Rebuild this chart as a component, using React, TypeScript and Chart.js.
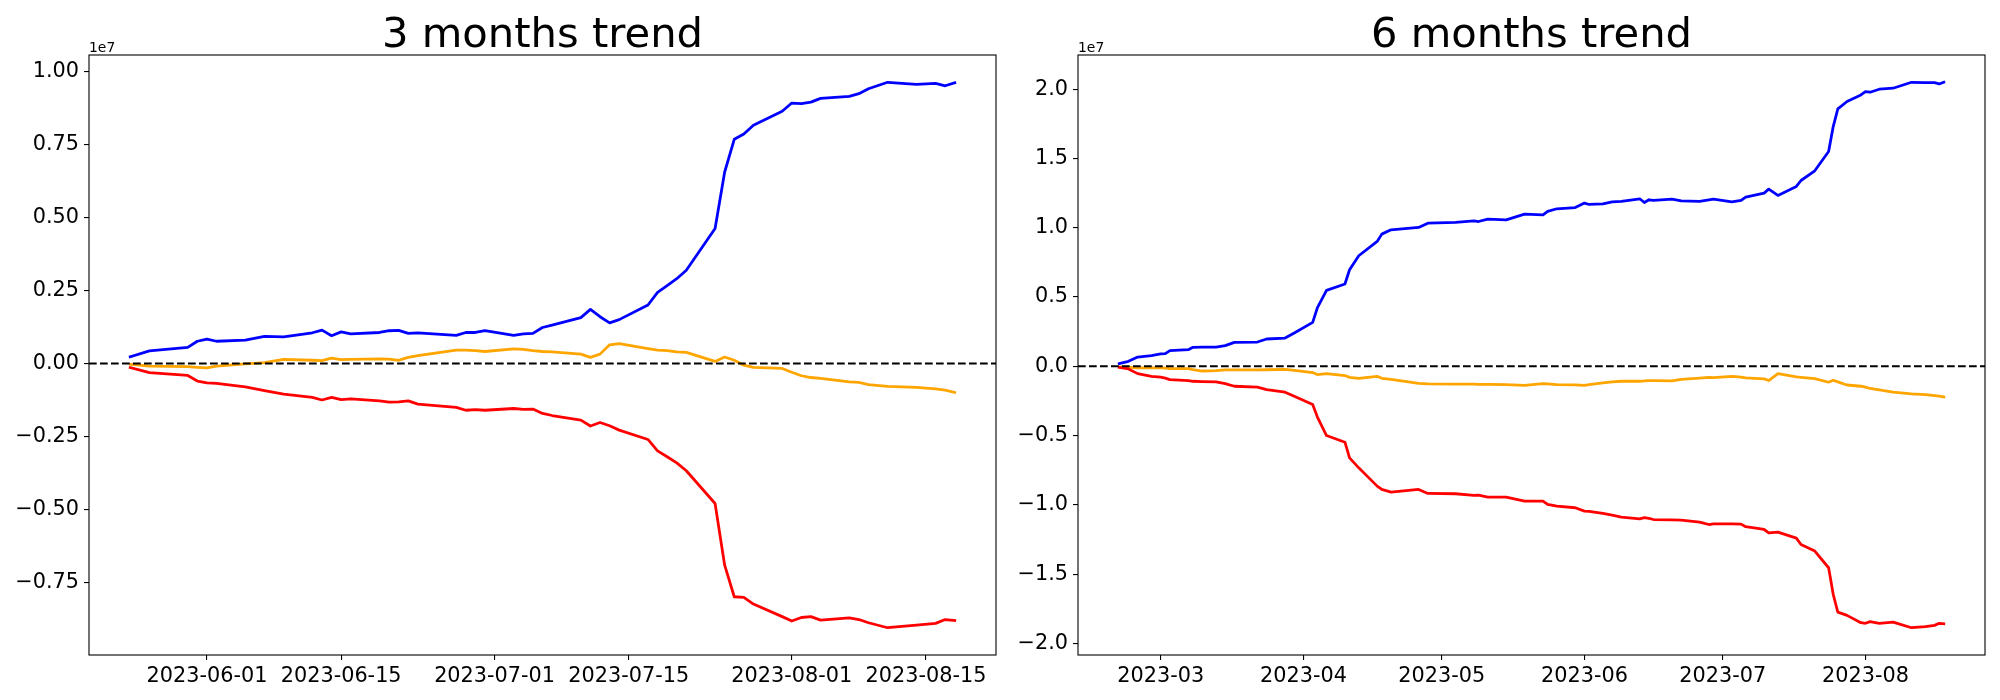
import React, { useEffect, useRef } from "react";
import { Chart, registerables } from "chart.js";

Chart.register(...registerables);

const FONT = "'DejaVu Sans', sans-serif";

// ---------- 3 months data (values in units of 1e7) ----------
const dates3m = [
  "2023-05-24", "2023-05-26", "2023-05-30", "2023-05-31", "2023-06-01", "2023-06-02", "2023-06-05", "2023-06-07", "2023-06-09", "2023-06-12",
  "2023-06-13", "2023-06-14", "2023-06-15", "2023-06-16", "2023-06-19", "2023-06-20", "2023-06-21", "2023-06-22", "2023-06-23", "2023-06-27",
  "2023-06-28", "2023-06-29", "2023-06-30", "2023-07-03", "2023-07-04", "2023-07-05", "2023-07-06", "2023-07-07", "2023-07-10", "2023-07-11",
  "2023-07-12", "2023-07-13", "2023-07-14", "2023-07-17", "2023-07-18", "2023-07-19", "2023-07-20", "2023-07-21", "2023-07-24", "2023-07-25",
  "2023-07-26", "2023-07-27", "2023-07-28", "2023-07-31", "2023-08-01", "2023-08-02", "2023-08-03", "2023-08-04", "2023-08-07", "2023-08-08",
  "2023-08-09", "2023-08-11", "2023-08-14", "2023-08-16", "2023-08-17", "2023-08-18",
];
const blue3m = [
  0.023, 0.043, 0.055, 0.076, 0.083, 0.076, 0.080, 0.093, 0.091, 0.105,
  0.114, 0.095, 0.108, 0.101, 0.106, 0.112, 0.113, 0.103, 0.105, 0.096,
  0.106, 0.106, 0.112, 0.096, 0.101, 0.103, 0.123, 0.131, 0.157, 0.185,
  0.160, 0.139, 0.150, 0.200, 0.243, 0.266, 0.290, 0.319, 0.462, 0.655,
  0.767, 0.785, 0.815, 0.863, 0.891, 0.889, 0.894, 0.907, 0.914, 0.923,
  0.940, 0.962, 0.955, 0.958, 0.950, 0.960,
];
const orange3m = [
  -0.003, -0.009, -0.011, -0.013, -0.015, -0.009, -0.001, 0.003, 0.014, 0.011,
  0.010, 0.018, 0.013, 0.014, 0.016, 0.015, 0.011, 0.021, 0.027, 0.046,
  0.046, 0.044, 0.041, 0.050, 0.048, 0.044, 0.041, 0.040, 0.032, 0.021,
  0.032, 0.064, 0.068, 0.051, 0.046, 0.044, 0.040, 0.038, 0.007, 0.022,
  0.011, -0.006, -0.013, -0.017, -0.030, -0.042, -0.048, -0.051, -0.063, -0.065,
  -0.072, -0.078, -0.082, -0.087, -0.091, -0.099,
];
const red3m = [
  -0.014, -0.031, -0.041, -0.060, -0.066, -0.068, -0.080, -0.093, -0.105, -0.116,
  -0.125, -0.116, -0.124, -0.121, -0.128, -0.132, -0.131, -0.128, -0.139, -0.150,
  -0.160, -0.158, -0.160, -0.154, -0.157, -0.156, -0.171, -0.178, -0.194, -0.214,
  -0.202, -0.213, -0.228, -0.260, -0.299, -0.319, -0.340, -0.367, -0.479, -0.690,
  -0.798, -0.800, -0.823, -0.866, -0.881, -0.869, -0.866, -0.878, -0.870, -0.876,
  -0.887, -0.904, -0.895, -0.889, -0.876, -0.879,
];
const xTicks3m = ["2023-06-01", "2023-06-15", "2023-07-01", "2023-07-15", "2023-08-01", "2023-08-15"];
const yTicks3m = [-0.75, -0.5, -0.25, 0, 0.25, 0.5, 0.75, 1.0];

// ---------- 6 months data (values in units of 1e7) ----------
const dates6m = [
  "2023-02-20", "2023-02-22", "2023-02-24", "2023-02-27", "2023-03-01", "2023-03-02", "2023-03-03", "2023-03-07", "2023-03-08", "2023-03-10",
  "2023-03-13", "2023-03-15", "2023-03-17", "2023-03-22", "2023-03-24", "2023-03-28", "2023-03-30", "2023-04-03", "2023-04-04", "2023-04-06",
  "2023-04-10", "2023-04-11", "2023-04-13", "2023-04-17", "2023-04-18", "2023-04-20", "2023-04-26", "2023-04-28", "2023-05-04", "2023-05-08",
  "2023-05-09", "2023-05-11", "2023-05-15", "2023-05-19", "2023-05-23", "2023-05-24", "2023-05-26", "2023-05-30", "2023-06-01", "2023-06-02",
  "2023-06-05", "2023-06-07", "2023-06-09", "2023-06-13", "2023-06-14", "2023-06-15", "2023-06-16", "2023-06-20", "2023-06-22", "2023-06-26",
  "2023-06-28", "2023-06-29", "2023-07-03", "2023-07-05", "2023-07-06", "2023-07-10", "2023-07-11", "2023-07-13", "2023-07-17", "2023-07-18",
  "2023-07-21", "2023-07-24", "2023-07-25", "2023-07-26", "2023-07-28", "2023-07-31", "2023-08-01", "2023-08-02", "2023-08-04", "2023-08-07",
  "2023-08-11", "2023-08-14", "2023-08-16", "2023-08-17", "2023-08-18",
];
const blue6m = [
  0.019, 0.036, 0.067, 0.077, 0.089, 0.091, 0.113, 0.120, 0.137, 0.138,
  0.139, 0.149, 0.173, 0.175, 0.197, 0.204, 0.240, 0.317, 0.421, 0.548,
  0.594, 0.697, 0.798, 0.901, 0.954, 0.985, 1.002, 1.033, 1.038, 1.050,
  1.045, 1.062, 1.057, 1.098, 1.093, 1.118, 1.137, 1.146, 1.178, 1.168,
  1.173, 1.187, 1.190, 1.209, 1.182, 1.202, 1.197, 1.206, 1.194, 1.190,
  1.202, 1.206, 1.187, 1.197, 1.221, 1.250, 1.279, 1.233, 1.298, 1.341,
  1.411, 1.550, 1.730, 1.858, 1.911, 1.959, 1.983, 1.978, 2.000, 2.007,
  2.050, 2.048, 2.048, 2.038, 2.050,
];
const orange6m = [
  -0.005, -0.008, -0.012, -0.012, -0.012, -0.014, -0.017, -0.017, -0.024, -0.034,
  -0.031, -0.026, -0.026, -0.026, -0.025, -0.022, -0.029, -0.045, -0.060, -0.053,
  -0.067, -0.080, -0.087, -0.072, -0.087, -0.095, -0.123, -0.127, -0.128, -0.129,
  -0.130, -0.131, -0.133, -0.137, -0.125, -0.127, -0.132, -0.134, -0.137, -0.133,
  -0.120, -0.113, -0.108, -0.108, -0.106, -0.103, -0.104, -0.106, -0.095, -0.085,
  -0.080, -0.082, -0.072, -0.078, -0.084, -0.091, -0.103, -0.053, -0.077, -0.080,
  -0.089, -0.115, -0.101, -0.112, -0.135, -0.144, -0.150, -0.160, -0.170, -0.187,
  -0.199, -0.204, -0.211, -0.215, -0.221,
];
const red6m = [
  -0.007, -0.019, -0.053, -0.072, -0.079, -0.085, -0.096, -0.103, -0.108, -0.110,
  -0.113, -0.125, -0.144, -0.151, -0.168, -0.187, -0.216, -0.276, -0.365, -0.500,
  -0.548, -0.661, -0.733, -0.865, -0.889, -0.908, -0.889, -0.918, -0.920, -0.932,
  -0.930, -0.944, -0.944, -0.973, -0.973, -0.997, -1.009, -1.021, -1.045, -1.048,
  -1.062, -1.075, -1.089, -1.101, -1.093, -1.098, -1.106, -1.108, -1.110, -1.125,
  -1.142, -1.137, -1.137, -1.139, -1.158, -1.178, -1.202, -1.197, -1.240, -1.286,
  -1.334, -1.454, -1.646, -1.774, -1.798, -1.851, -1.855, -1.843, -1.855, -1.846,
  -1.887, -1.879, -1.870, -1.855, -1.858,
];
const xTicks6m = ["2023-03-01", "2023-04-01", "2023-05-01", "2023-06-01", "2023-07-01", "2023-08-01"];
const yTicks6m = [-2.0, -1.5, -1.0, -0.5, 0, 0.5, 1.0, 1.5, 2.0];

// ---------- helpers ----------
const DAY = 86400000;
function dayNum(s: string): number {
  const [y, m, d] = s.split("-").map(Number);
  return Date.UTC(y, m - 1, d) / DAY;
}
function fmtDay(n: number, monthOnly: boolean): string {
  const iso = new Date(Math.round(n) * DAY).toISOString();
  return monthOnly ? iso.slice(0, 7) : iso.slice(0, 10);
}
function fmtY(v: number, dec: number): string {
  const s = Math.abs(v).toFixed(dec);
  return v < 0 ? "\u2212" + s : s;
}

type PanelProps = {
  title: string;
  dates: string[];
  blue: number[];
  orange: number[];
  red: number[];
  xTicks: string[];
  monthOnly: boolean;
  yTicks: number[];
  yDec: number;
  yAxisWidth: number;
  padRight: number;
  left: number;
};

function Panel(p: PanelProps) {
  const ref = useRef<HTMLCanvasElement | null>(null);
  useEffect(() => {
    if (!ref.current) return;
    const xs = p.dates.map(dayNum);
    const x0 = Math.min(...xs);
    const x1 = Math.max(...xs);
    const xm = (x1 - x0) * 0.05;
    const all = [...p.blue, ...p.orange, ...p.red];
    const y0 = Math.min(...all);
    const y1 = Math.max(...all);
    const ym = (y1 - y0) * 0.05;
    const mk = (arr: number[]) => arr.map((v, i) => ({ x: xs[i], y: v }));
    const common = {
      borderWidth: 2.78,
      pointRadius: 0,
      pointHoverRadius: 0,
      tension: 0,
      fill: false,
      borderJoinStyle: "round" as const,
      borderCapStyle: "square" as const,
    };
    const deco = {
      id: "deco",
      afterDatasetsDraw(chart: any) {
        const { ctx, chartArea } = chart;
        const yz = chart.scales.y.getPixelForValue(0);
        ctx.save();
        ctx.beginPath();
        ctx.rect(chartArea.left, chartArea.top, chartArea.right - chartArea.left, chartArea.bottom - chartArea.top);
        ctx.clip();
        ctx.strokeStyle = "#000";
        ctx.lineWidth = 2.08;
        ctx.setLineDash([7.7, 3.3]);
        ctx.beginPath();
        ctx.moveTo(chartArea.left, yz);
        ctx.lineTo(chartArea.right, yz);
        ctx.stroke();
        ctx.restore();
      },
      afterDraw(chart: any) {
        const { ctx, chartArea } = chart;
        ctx.save();
        ctx.strokeStyle = "#000";
        ctx.lineWidth = 1.1;
        ctx.setLineDash([]);
        ctx.strokeRect(chartArea.left, chartArea.top, chartArea.right - chartArea.left, chartArea.bottom - chartArea.top);
        ctx.fillStyle = "#000";
        ctx.font = `41.7px ${FONT}`;
        ctx.textAlign = "center";
        ctx.textBaseline = "alphabetic";
        ctx.fillText(p.title, (chartArea.left + chartArea.right) / 2, 46.7);
        ctx.font = `13.9px ${FONT}`;
        ctx.textAlign = "left";
        ctx.fillText("1e7", chartArea.left, 51.5);
        ctx.restore();
      },
    };
    const chart = new Chart(ref.current, {
      type: "line",
      data: {
        datasets: [
          { label: "blue", data: mk(p.blue), borderColor: "#0000ff", order: 3, ...common },
          { label: "orange", data: mk(p.orange), borderColor: "#ffa500", order: 2, ...common },
          { label: "red", data: mk(p.red), borderColor: "#ff0000", order: 1, ...common },
        ],
      },
      options: {
        animation: false,
        responsive: false,
        devicePixelRatio: 1,
        layout: { padding: { left: 0, right: p.padRight, top: 55, bottom: 0 } },
        plugins: {
          legend: { display: false },
          tooltip: { enabled: false },
          title: { display: false },
        },
        scales: {
          x: {
            type: "linear",
            min: x0 - xm,
            max: x1 + xm,
            afterBuildTicks: (s: any) => {
              s.ticks = p.xTicks.map((d) => ({ value: dayNum(d) }));
            },
            afterFit: (s: any) => {
              s.height = 45;
            },
            ticks: {
              callback: (v: any) => fmtDay(Number(v), p.monthOnly),
              font: { family: FONT, size: 20.8 },
              color: "#000",
              padding: 4,
              maxRotation: 0,
              minRotation: 0,
              autoSkip: false,
            },
            grid: { drawOnChartArea: false, drawTicks: true, tickLength: 5, color: "#000", lineWidth: 1.1 },
            border: { display: false },
          },
          y: {
            type: "linear",
            min: y0 - ym,
            max: y1 + ym,
            afterBuildTicks: (s: any) => {
              s.ticks = p.yTicks.map((v) => ({ value: v }));
            },
            afterFit: (s: any) => {
              s.width = p.yAxisWidth;
            },
            ticks: {
              callback: (v: any) => fmtY(Number(v), p.yDec),
              font: { family: FONT, size: 20.8 },
              color: "#000",
              padding: 5,
              autoSkip: false,
            },
            grid: { drawOnChartArea: false, drawTicks: true, tickLength: 5, color: "#000", lineWidth: 1.1 },
            border: { display: false },
          },
        },
      } as any,
      plugins: [deco],
    });
    return () => chart.destroy();
  }, []);
  return (
    <canvas
      ref={ref}
      width={1000}
      height={700}
      style={{ position: "absolute", left: p.left, top: 0, width: 1000, height: 700 }}
    />
  );
}

export default function App() {
  return (
    <div style={{ position: "absolute", left: 0, top: 0, width: 2000, height: 700, background: "#fff" }}>
      <Panel
        title="3 months trend"
        dates={dates3m}
        blue={blue3m}
        orange={orange3m}
        red={red3m}
        xTicks={xTicks3m}
        monthOnly={false}
        yTicks={yTicks3m}
        yDec={2}
        yAxisWidth={89}
        padRight={4}
        left={0}
      />
      <Panel
        title="6 months trend"
        dates={dates6m}
        blue={blue6m}
        orange={orange6m}
        red={red6m}
        xTicks={xTicks6m}
        monthOnly={true}
        yTicks={yTicks6m}
        yDec={1}
        yAxisWidth={78}
        padRight={15}
        left={1000}
      />
    </div>
  );
}
